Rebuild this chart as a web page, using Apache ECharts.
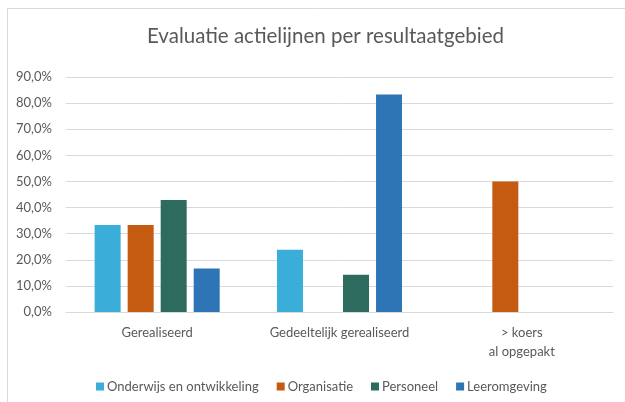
<!DOCTYPE html>
<html>
<head>
<meta charset="utf-8">
<script src="https://cdn.jsdelivr.net/npm/echarts@6/dist/echarts.min.js"></script>
<style>
  html, body { margin: 0; padding: 0; background: #fff; }
  #chart { width: 625px; height: 402px; }
</style>
</head>
<body>
<div id="chart"></div>
<script>
// categories and series (fractions, shown as percentages)
const categories = ['Gerealiseerd', 'Gedeeltelijk gerealiseerd', '> koers\nal opgepakt']
const onderwijs = [0.333, 0.238, 0]
const organisatie = [0.333, 0, 0.5]
const personeel = [0.429, 0.143, 0]
const leeromgeving = [0.167, 0.833, 0]
const seriesNames = ['Onderwijs en ontwikkeling', 'Organisatie', 'Personeel', 'Leeromgeving']
const colors = ['#3aaed8', '#c55a11', '#2e6b5f', '#2e75b6']

const chart = echarts.init(document.getElementById('chart'))
const font = 'Lato, "Open Sans", sans-serif'
const txt = '#595959'

const mkBar = (name, data, i) => ({
  name: name,
  type: 'bar',
  data: data,
  barWidth: 26,
  barGap: '27%',
  itemStyle: { color: colors[i] }
})

const option = {
  animation: false,
  color: colors,
  textStyle: { fontFamily: font },
  graphic: [
    {
      type: 'rect',
      shape: { x: 7.5, y: 8.5, width: 700, height: 500 },
      style: { fill: 'none', stroke: '#d9d9d9', lineWidth: 1 },
      silent: true
    }
  ],
  title: {
    text: 'Evaluatie actielijnen per resultaatgebied',
    left: 142,
    top: 21,
    textStyle: { fontFamily: font, fontSize: 20.5, fontWeight: 'normal', color: txt }
  },
  legend: {
    data: seriesNames,
    top: 375,
    left: 91,
    icon: 'rect',
    itemWidth: 8,
    itemHeight: 8,
    itemGap: 18,
    textStyle: { fontFamily: font, fontSize: 13, color: txt, padding: [0, 0, 0, -2] }
  },
  grid: { left: 66, right: 12, top: 77, bottom: 90 },
  xAxis: {
    type: 'category',
    data: categories,
    axisLine: { lineStyle: { color: '#d9d9d9' } },
    axisTick: { show: false },
    axisLabel: { color: txt, fontSize: 13, fontFamily: font, margin: 11, lineHeight: 19 }
  },
  yAxis: {
    type: 'value',
    min: 0,
    max: 0.9,
    interval: 0.1,
    axisLine: { show: false },
    axisTick: { show: false },
    splitLine: { lineStyle: { color: '#d9d9d9' } },
    axisLabel: {
      color: txt,
      fontSize: 13,
      fontFamily: font,
      margin: 14,
      formatter: (v) => (v * 100).toFixed(1).replace('.', ',') + '%'
    }
  },
  series: [
    mkBar(seriesNames[0], onderwijs, 0),
    mkBar(seriesNames[1], organisatie, 1),
    mkBar(seriesNames[2], personeel, 2),
    mkBar(seriesNames[3], leeromgeving, 3)
  ]
}
chart.setOption(option)
</script>
</body>
</html>
